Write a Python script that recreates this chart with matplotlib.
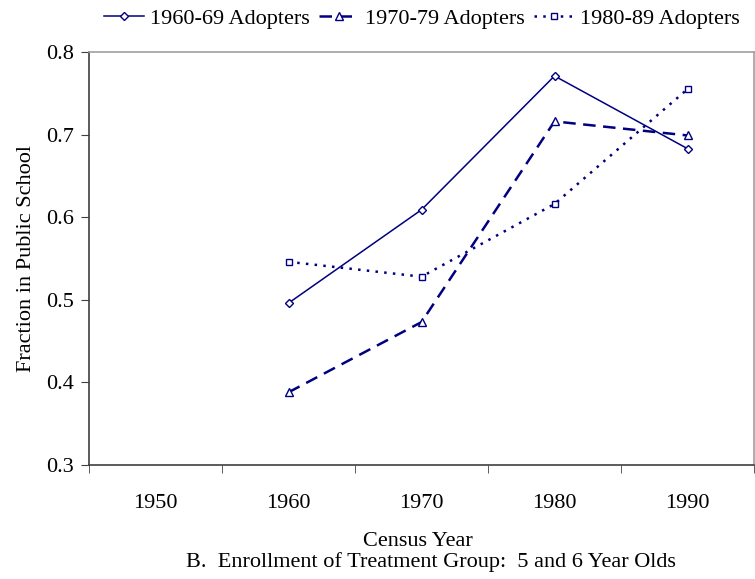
import matplotlib.pyplot as plt
import numpy as np

years = ['1950', '1960', '1970', '1980', '1990']
adopt_60s = [np.nan, 0.496, 0.609, 0.771, 0.683]
adopt_70s = [np.nan, 0.388, 0.473, 0.716, 0.699]
adopt_80s = [np.nan, 0.546, 0.528, 0.616, 0.755]

plt.rcParams['font.family'] = ['Liberation Serif', 'DejaVu Serif']
plt.rcParams['font.size'] = 16

navy = '#000080'
fig = plt.figure(figsize=(7.55, 5.79), dpi=100)
ax = fig.add_axes([89 / 755, 114 / 579, 665 / 755, 413 / 579])

x = np.arange(len(years))
ax.plot(x, adopt_60s, color=navy, lw=1.1, marker='D', ms=4, mfc='white', mew=1.0,
        label='1960-69 Adopters')
ax.plot(x, adopt_70s, color=navy, lw=1.8, ls=(0, (5, 3)), marker='^', ms=6, mfc='white', mew=1.0,
        label='1970-79 Adopters')
ax.plot(x, adopt_80s, color=navy, lw=1.8, ls=(0, (1, 2.5)), marker='s', ms=5, mfc='white', mew=1.0,
        label='1980-89 Adopters')

ax.set_xlim(-0.5, len(years) - 0.5)
ax.set_ylim(0.3, 0.8)
ax.set_yticks(np.arange(0.3, 0.81, 0.1))
ax.set_yticklabels([f'{v:.1f}' for v in np.arange(0.3, 0.81, 0.1)])
ax.set_xticks(x)
ax.set_xticklabels(years)
ax.set_xticks(np.arange(-0.5, len(years), 1.0), minor=True)
ax.tick_params(axis='x', which='major', length=0, pad=21)
ax.tick_params(axis='x', which='minor', length=6, direction='out', color='#404040')
ax.tick_params(axis='y', length=6, direction='out', color='#404040', pad=5)

for side in ['top', 'right']:
    ax.spines[side].set_color('#a0a0a0')
    ax.spines[side].set_linewidth(1.2)
for side in ['left', 'bottom']:
    ax.spines[side].set_color('#404040')
    ax.spines[side].set_linewidth(1.2)

ax.set_ylabel('Fraction in Public School', labelpad=7)
fig.text(418 / 755, 1 - 542 / 579, 'Census Year', ha='center', va='center')
fig.text(431 / 755, 1 - 562 / 579, 'B.  Enrollment of Treatment Group:  5 and 6 Year Olds',
         ha='center', va='center')

fig.legend(loc='center', bbox_to_anchor=(422 / 755, 1 - 19 / 579), ncol=3, frameon=False,
           handlelength=1.8, handletextpad=0.27, columnspacing=0.4, borderaxespad=0)

fig.savefig('out.png', dpi=100)
